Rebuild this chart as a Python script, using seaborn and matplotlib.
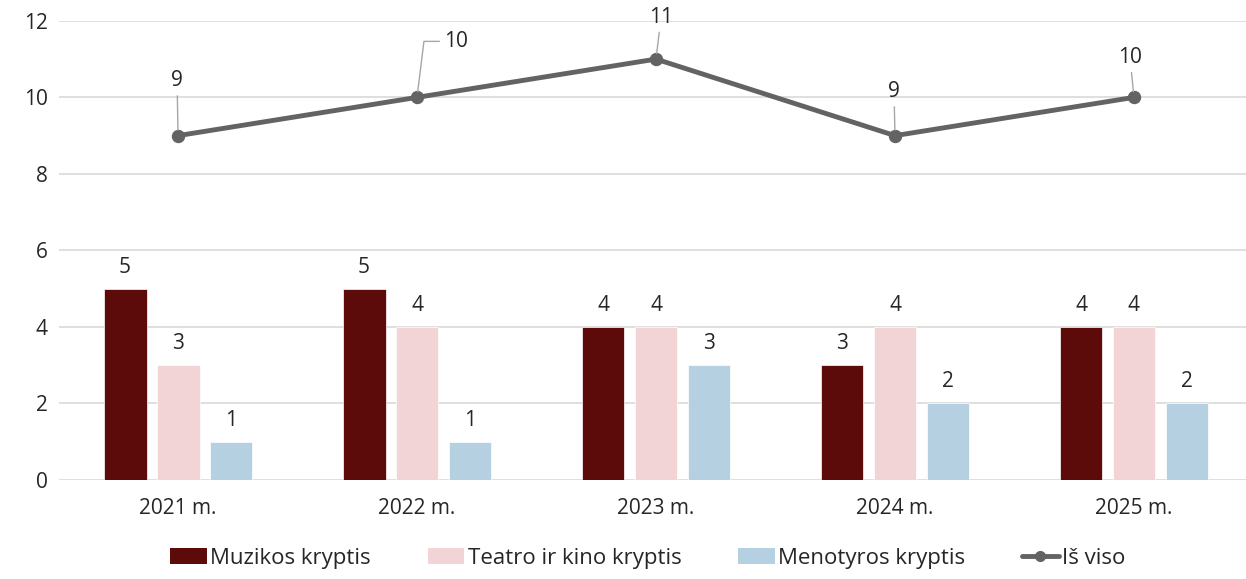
import numpy as np
import pandas as pd
import matplotlib
matplotlib.use('Agg')
import matplotlib.pyplot as plt
import seaborn as sns
from matplotlib.patches import Patch
from matplotlib.lines import Line2D

years = ['2021 m.', '2022 m.', '2023 m.', '2024 m.', '2025 m.']
muzikos = [5, 5, 4, 3, 4]
teatro = [3, 4, 4, 4, 4]
menotyros = [1, 1, 3, 2, 2]
is_viso = [9, 10, 11, 9, 10]
series_names = ['Muzikos kryptis', 'Teatro ir kino kryptis', 'Menotyros kryptis']
total_name = 'Iš viso'

colors = ['#5c0b0a', '#f2d4d6', '#b4d0e1']
line_color = '#636363'
text_color = '#262626'

sns.set_theme(style='white')
plt.rcParams['font.family'] = ['Open Sans', 'DejaVu Sans']

df = pd.DataFrame({'year': years * 3,
                   'series': [s for s in series_names for _ in years],
                   'value': muzikos + teatro + menotyros})

fig = plt.figure(figsize=(12.46, 5.79), dpi=100)
ax = fig.add_axes([0.047, 0.171, 0.959, 0.793])

sns.barplot(data=df, x='year', y='value', hue='series', palette=colors,
            saturation=1, width=0.665, gap=0.19, edgecolor='white', linewidth=0.5,
            ax=ax, legend=False, zorder=2)

for cont in ax.containers:
    ax.bar_label(cont, padding=8, fontsize=15, color=text_color)

sns.pointplot(x=years, y=is_viso, color=line_color, markers='o',
              markersize=7, linewidth=3.5, ax=ax, zorder=4)

# label offsets in pixels (dx, dy) from each point
offsets = [(-1, 55), (39, 56), (5, 42), (-1, 44), (-4, 40)]
for i, (v, off) in enumerate(zip(is_viso, offsets)):
    if off[0] > 20:
        cs = 'angle,angleA=0,angleB=83,rad=0'
    else:
        cs = 'arc3'
    ax.annotate(str(v), xy=(i, v), xytext=off, textcoords='offset pixels',
                ha='center', va='center', fontsize=15, color=text_color,
                arrowprops=dict(arrowstyle='-', color='#a6a6a6', lw=1,
                                shrinkA=1, shrinkB=4, connectionstyle=cs),
                zorder=5)

ax.set_xlim(-0.5, 4.5)
ax.set_ylim(0, 12)
ax.set_yticks(range(0, 13, 2))
ax.yaxis.grid(True, color='#d9d9d9', linewidth=1.2)
ax.set_axisbelow(True)
sns.despine(ax=ax, left=True, bottom=True)
ax.set_xlabel('')
ax.set_ylabel('')
ax.tick_params(axis='both', length=0, labelsize=15, colors=text_color, pad=8)
ax.tick_params(axis='x', pad=13)

handles = [Patch(facecolor=c, edgecolor='none') for c in colors]
handles.append(Line2D([], [], color=line_color, lw=3.5, marker='o', markersize=7))
fig.legend(handles, series_names + [total_name], loc='center',
           bbox_to_anchor=(0.52, 0.036), ncol=4, frameon=False, fontsize=16,
           handlelength=1.65, handleheight=0.75, handletextpad=0.15,
           columnspacing=2.55, labelcolor=text_color)

fig.savefig('out.png', dpi=100)
